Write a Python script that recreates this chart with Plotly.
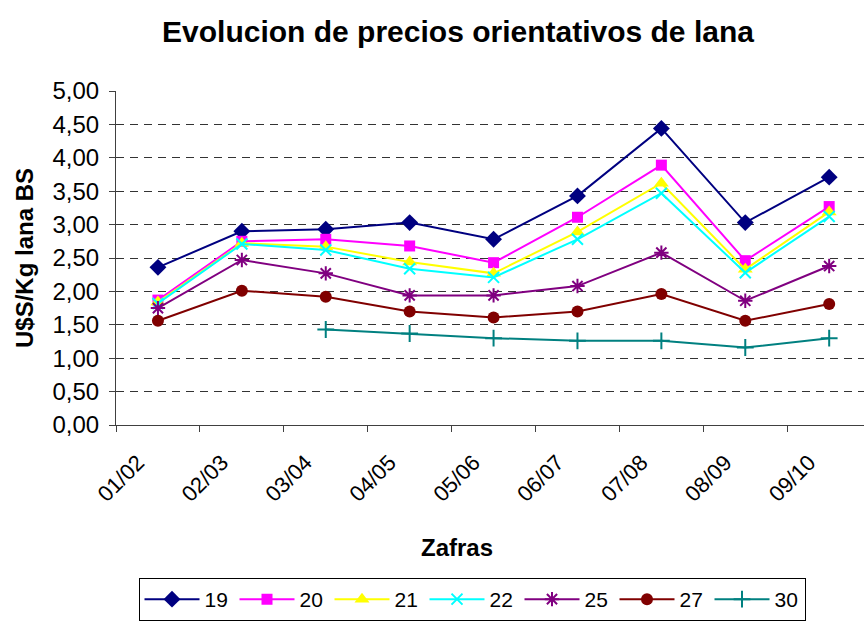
import plotly.graph_objects as go

zafras = ["01/02", "02/03", "03/04", "04/05", "05/06", "06/07", "07/08", "08/09", "09/10"]
s19 = [2.36, 2.90, 2.93, 3.03, 2.78, 3.43, 4.44, 3.03, 3.71]
s20 = [1.87, 2.75, 2.78, 2.68, 2.43, 3.11, 3.89, 2.46, 3.27]
s21 = [1.84, 2.72, 2.67, 2.44, 2.27, 2.89, 3.62, 2.33, 3.19]
s22 = [1.82, 2.71, 2.62, 2.34, 2.21, 2.78, 3.47, 2.28, 3.12]
s25 = [1.75, 2.47, 2.27, 1.94, 1.94, 2.08, 2.58, 1.86, 2.38]
s27 = [1.56, 2.01, 1.92, 1.70, 1.61, 1.70, 1.96, 1.56, 1.81]
s30 = [None, None, 1.43, 1.37, 1.30, 1.26, 1.26, 1.16, 1.30]

series_names = ["19", "20", "21", "22", "25", "27", "30"]
y_tickvals = [0, 0.5, 1, 1.5, 2, 2.5, 3, 3.5, 4, 4.5, 5]
y_ticktext = ["0,00", "0,50", "1,00", "1,50", "2,00", "2,50", "3,00", "3,50", "4,00", "4,50", "5,00"]

styles = [
    dict(color="#000080", symbol="diamond", size=13, lw=0),
    dict(color="#FF00FF", symbol="square", size=11, lw=0),
    dict(color="#FFFF00", symbol="triangle-up", size=13, lw=0),
    dict(color="#00FFFF", symbol="x-thin", size=11, lw=2),
    dict(color="#800080", symbol="asterisk", size=12, lw=2),
    dict(color="#800000", symbol="circle", size=12, lw=0),
    dict(color="#008080", symbol="cross-thin", size=12, lw=2),
]

fig = go.Figure()
for name, vals, st in zip(series_names, [s19, s20, s21, s22, s25, s27, s30], styles):
    fig.add_trace(go.Scatter(
        x=zafras, y=vals, name=name, mode="lines+markers",
        line=dict(color=st["color"], width=2),
        marker=dict(symbol=st["symbol"], size=st["size"], color=st["color"],
                    line=dict(color=st["color"], width=st["lw"])),
        connectgaps=False,
    ))

font_family = "Liberation Sans, Arial, sans-serif"
L, T, B = 116, 91, 425
PW, PH = 864 - L, B - T
fig.update_layout(
    width=864, height=624,
    margin=dict(l=L, r=0, t=T, b=624 - B, autoexpand=False),
    paper_bgcolor="white", plot_bgcolor="white",
    font=dict(family=font_family, size=20, color="black"),
    title=dict(text="<b>Evolucion de precios orientativos de lana</b>",
               x=458 / 864, xanchor="center", y=1 - 31 / 624, yanchor="middle",
               font=dict(size=30, family=font_family)),
    showlegend=True,
    legend=dict(orientation="h", x=(472 - L) / PW, xanchor="center",
                y=(B - 578) / PH, yanchor="top",
                bordercolor="black", borderwidth=1, bgcolor="white",
                itemwidth=55, entrywidth=25,
                font=dict(size=21), traceorder="normal"),
    annotations=[dict(text="<b>Zafras</b>", xref="paper", yref="paper",
                      x=(457 - L) / PW, y=(B - 547) / PH, xanchor="center", yanchor="middle",
                      showarrow=False, font=dict(size=24))],
)
fig.update_xaxes(
    type="category", range=[-0.5, 8.415], tickangle=-45, automargin=False,
    showline=True, linecolor="#404040", linewidth=1,
    ticks="outside", ticklen=6, tickcolor="#404040", tickson="boundaries",
    showgrid=False, tickfont=dict(size=22), ticklabelstandoff=15, ticklabelshift=-20,
)
fig.update_yaxes(
    range=[0, 5], tickvals=y_tickvals, ticktext=y_ticktext, automargin=False,
    showline=True, linecolor="#404040", linewidth=1,
    ticks="outside", ticklen=6, tickcolor="#404040",
    showgrid=True, gridcolor="#333333", gridwidth=1, griddash="8px,6px",
    tickfont=dict(size=24), zeroline=False, ticklabelstandoff=5,
    title=dict(text="<b>U$S/Kg lana BS</b>", font=dict(size=24), standoff=12),
)

fig.write_html("out.html", config={"displayModeBar": False},
               post_script="document.body.style.margin='0px';")
